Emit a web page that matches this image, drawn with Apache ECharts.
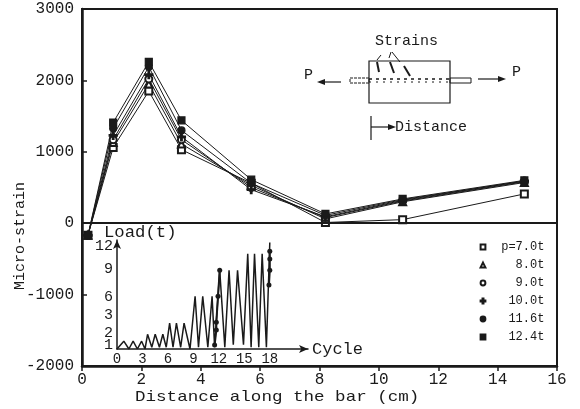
<!DOCTYPE html>
<html>
<head>
<meta charset="utf-8">
<style>
    html, body { margin: 0; background: #fff; }
    #chart { width: 580px; height: 409px; }
</style>
<script src="https://cdn.jsdelivr.net/npm/echarts@6/dist/echarts.min.js"></script>
</head>
<body>
<div id="chart"></div>
<script>
var distance = [0.2, 1.05, 2.25, 3.35, 5.7, 8.2, 10.8, 14.9];
var p70 = [-170, 1060, 1850, 1030, 560, 10, 50, 410];
var p80 = [-170, 1130, 1950, 1110, 530, 60, 300, 570];
var p90 = [-170, 1170, 2020, 1170, 500, 80, 310, 580];
var p100 = [-170, 1230, 2080, 1210, 470, 90, 320, 590];
var p116 = [-170, 1330, 2190, 1300, 560, 110, 330, 590];
var p124 = [-170, 1410, 2260, 1440, 610, 130, 340, 600];
var seriesNames = ['p=7.0t', '8.0t', '9.0t', '10.0t', '11.6t', '12.4t'];

// inset: load history
var cycle = [0, 0.8, 1.4, 1.9, 2.4, 2.9, 3.3, 3.6, 4.1, 4.5, 5, 5.4, 5.8, 6.2, 6.6, 7, 7.5, 7.9, 8.6,
    9.2, 9.6, 10.1, 10.7, 11.2, 11.5, 12.1, 12.7, 13.2, 13.7, 14.2, 14.9, 15.4, 15.8, 16.2, 16.7, 17.1, 17.6, 18];
var load = [0, 0.9, 0, 0.9, 0, 0.9, 0, 1.7, 0.2, 1.7, 0.2, 1.7, 0.2, 3, 0.2, 3, 0.2, 3, 0,
    6.1, 0.2, 6.1, 0.2, 6.1, 0.2, 9.1, 0.2, 9.1, 0.5, 9.1, 0.5, 11, 0.2, 11, 0.2, 11, 0.2, 12.3];
var riseCycle = [11.5, 11.7, 11.7, 11.9, 12.1];
var riseLoad = [0.45, 2.2, 3.1, 6.1, 9.1];
var lastCycle = [17.9, 18, 18, 18];
var lastLoad = [7.4, 9.1, 10.4, 11.3];
var cycleTicks = [0, 3, 6, 9, 12, 15, 18];
var loadTicks = [0, 0.5, 1.85, 3.9, 6, 9.3, 11.9];
var loadLabels = ['', '1', '2', '3', '6', '9', '12'];

var mono = '"Liberation Mono", monospace';
var ink = '#1a1a1a';

function pairs(xs, ys) {
    return xs.map(function (x, i) { return [x, ys[i]]; });
}

function strainSeries(name, values, symbol, size) {
    return {
        name: name,
        type: 'line',
        data: pairs(distance, values),
        xAxisIndex: 0,
        yAxisIndex: 0,
        symbol: symbol,
        symbolSize: size,
        showSymbol: true,
        lineStyle: { color: ink, width: 1 },
        itemStyle: { color: ink, borderColor: ink, borderWidth: 1.2 }
    };
}

function bit(x1, y1, x2, y2, w) {
    return {
        type: 'line',
        shape: { x1: x1, y1: y1, x2: x2, y2: y2 },
        style: { stroke: ink, lineWidth: w || 1 }
    };
}

function head(x, y, dir) {
    return {
        type: 'polygon',
        shape: { points: [[x, y], [x - dir * 8, y - 3], [x - dir * 8, y + 3]] },
        style: { fill: ink }
    };
}

function label(text, x, y, size, extra) {
    var el = {
        type: 'text',
        x: x,
        y: y,
        style: {
            text: text,
            font: size + 'px ' + mono,
            fill: ink,
            textAlign: 'left',
            textVerticalAlign: 'middle'
        }
    };
    return Object.assign(el, extra || {});
}

var chart = echarts.init(document.querySelector('#chart'));

var option = {
    animation: false,
    backgroundColor: '#fff',
    textStyle: { fontFamily: mono, color: ink },
    grid: [
        { left: 82, top: 9, width: 475, height: 357, show: true, borderColor: ink, borderWidth: 2, backgroundColor: 'transparent' },
        { left: 117, top: 240, width: 191, height: 109 }
    ],
    xAxis: [
        {
            gridIndex: 0, type: 'value', min: 0, max: 16, interval: 2,
            splitLine: { show: false },
            axisLine: { onZero: false, lineStyle: { color: ink, width: 2.5 } },
            axisTick: { show: true, length: 5, lineStyle: { color: ink, width: 1.5 } },
            axisLabel: { color: ink, fontSize: 16, fontFamily: mono, margin: 6 }
        },
        {
            gridIndex: 1, type: 'value', min: 0, max: 22.5,
            name: 'Cycle', nameLocation: 'end', nameGap: 4,
            nameTextStyle: { color: ink, fontSize: 17, fontFamily: mono },
            splitLine: { show: false },
            axisLine: { onZero: false, symbol: ['none', 'arrow'], symbolSize: [6, 9], lineStyle: { color: ink, width: 1.5 } },
            axisTick: { show: false },
            axisLabel: { color: ink, fontSize: 14, fontFamily: mono, margin: 3, customValues: cycleTicks }
        }
    ],
    yAxis: [
        {
            gridIndex: 0, type: 'value', min: -2000, max: 3000, interval: 1000,
            splitLine: { show: false },
            axisLine: { onZero: false, lineStyle: { color: ink, width: 2.5 } },
            axisTick: { show: true, inside: true, length: 5, lineStyle: { color: ink, width: 1.5 } },
            axisLabel: {
                color: ink, fontSize: 16, fontFamily: mono, margin: 8,
                formatter: function (v) { return String(v); }
            }
        },
        {
            gridIndex: 1, type: 'value', min: 0, max: 12.6,
            splitLine: { show: false },
            axisLine: { onZero: false, symbol: ['none', 'arrow'], symbolSize: [6, 9], lineStyle: { color: ink, width: 1.5 } },
            axisTick: { show: false },
            axisLabel: {
                color: ink, fontSize: 15, fontFamily: mono, margin: 4,
                showMinLabel: true,
                showMaxLabel: true,
                customValues: loadTicks,
                formatter: function (v) {
                    return loadLabels[loadTicks.indexOf(v)];
                }
            }
        }
    ],
    legend: {
        data: seriesNames,
        orient: 'vertical',
        left: 471,
        top: 236,
        itemWidth: 12,
        itemHeight: 6,
        itemGap: 6,
        lineStyle: { opacity: 0 },
        inactiveColor: ink,
        selectedMode: false,
        formatter: function (name) { return name.padStart(7, ' '); },
        textStyle: { color: ink, fontFamily: mono, fontSize: 12, height: 12, lineHeight: 12 }
    },
    series: [
        Object.assign(strainSeries(seriesNames[0], p70, 'emptyRect', 7), {
            markLine: {
                silent: true,
                symbol: 'none',
                label: { show: false },
                lineStyle: { color: ink, width: 2, type: 'solid' },
                data: [{ yAxis: 0 }]
            }
        }),
        strainSeries(seriesNames[1], p80, 'emptyTriangle', 7),
        strainSeries(seriesNames[2], p90, 'emptyCircle', 7),
        strainSeries(seriesNames[3], p100, 'path://M-1,-5h2v4h4v2h-4v4h-2v-4h-4v-2h4z', 8),
        strainSeries(seriesNames[4], p116, 'circle', 7),
        strainSeries(seriesNames[5], p124, 'rect', 7),
        {
            name: 'load',
            type: 'line',
            xAxisIndex: 1,
            yAxisIndex: 1,
            data: pairs(cycle, load),
            showSymbol: false,
            lineStyle: { color: ink, width: 1.5 }
        },
        {
            name: 'rise',
            type: 'line',
            xAxisIndex: 1,
            yAxisIndex: 1,
            data: pairs(riseCycle, riseLoad),
            symbol: 'circle',
            symbolSize: 5,
            itemStyle: { color: ink },
            lineStyle: { color: ink, width: 2 }
        },
        {
            name: 'last',
            type: 'line',
            xAxisIndex: 1,
            yAxisIndex: 1,
            data: pairs(lastCycle, lastLoad),
            symbol: 'circle',
            symbolSize: 5,
            itemStyle: { color: ink },
            lineStyle: { color: ink, width: 2 }
        }
    ],
    graphic: [
        label('Distance along the bar (cm)', 135, 397, 15, { scaleX: 1.17 }),
        label('Micro-strain', 20, 290, 15, { rotation: Math.PI / 2 }),
        label('Load(t)', 104, 233, 16, { scaleX: 1.08 }),

        // specimen sketch
        { type: 'rect', shape: { x: 369, y: 61, width: 81, height: 42 }, style: { fill: 'none', stroke: ink, lineWidth: 1.2 } },
        { type: 'rect', shape: { x: 350, y: 78, width: 19, height: 5 }, style: { fill: 'none', stroke: ink, lineWidth: 1, lineDash: [3, 1] } },
        { type: 'rect', shape: { x: 450, y: 78, width: 21, height: 5 }, style: { fill: 'none', stroke: ink, lineWidth: 1 } },
        { type: 'line', shape: { x1: 369, y1: 79, x2: 450, y2: 79 }, style: { stroke: ink, lineWidth: 1.5, lineDash: [3, 4] } },
        { type: 'line', shape: { x1: 369, y1: 82, x2: 450, y2: 82 }, style: { stroke: ink, lineWidth: 1, lineDash: [2, 5] } },
        bit(377, 62, 379, 72, 2),
        bit(390, 62, 394, 73, 2),
        bit(404, 66, 410, 76, 2),
        bit(381, 55, 377, 60, 1),
        bit(391, 52, 389, 58, 1),
        bit(392, 52, 400, 62, 1),
        label('Strains', 375, 41, 15),
        label('P', 304, 75, 15),
        bit(325, 82, 341, 82, 1.2),
        head(317, 82, -1),
        bit(478, 79, 498, 79, 1.2),
        head(506, 79, 1),
        label('P', 512, 72, 15),
        bit(371, 116, 371, 140, 1.2),
        bit(371, 127, 388, 127, 1.2),
        head(396, 127, 1),
        label('Distance', 395, 127, 15)
    ]
};
chart.setOption(option);
</script>
</body>
</html>
